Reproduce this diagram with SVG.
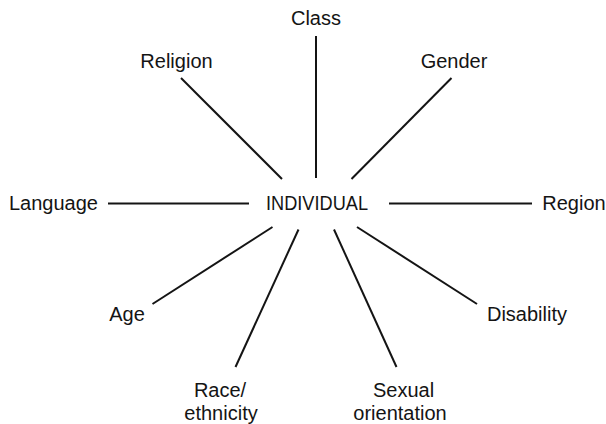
<svg xmlns="http://www.w3.org/2000/svg" width="606" height="424" viewBox="0 0 606 424">
  <style>
    .lbl { font-family: "Liberation Sans", Arial, sans-serif; font-size: 20px; fill: #141414; text-anchor: middle; }
    .spoke { stroke: #141414; stroke-width: 2; fill: none; }
  </style>
  <rect width="606" height="424" fill="#ffffff"/>
  <!-- spokes radiating from the central label -->
  <g id="connectors">
    <line class="spoke" x1="316" y1="36" x2="316" y2="178"/>
    <line class="spoke" x1="181" y1="78" x2="282" y2="179"/>
    <line class="spoke" x1="451.5" y1="78" x2="351.5" y2="179"/>
    <line class="spoke" x1="108" y1="203.5" x2="249" y2="203.5"/>
    <line class="spoke" x1="389" y1="203.5" x2="532" y2="203.5"/>
    <line class="spoke" x1="152.5" y1="304" x2="272.5" y2="227"/>
    <line class="spoke" x1="235.5" y1="367" x2="298.5" y2="229.5"/>
    <line class="spoke" x1="396.5" y1="367" x2="334" y2="229.5"/>
    <line class="spoke" x1="477" y1="304" x2="357" y2="227"/>
  </g>
  <g id="individual"><text class="lbl" x="317" y="210" textLength="102" lengthAdjust="spacingAndGlyphs">INDIVIDUAL</text></g>
  <g id="class"><text class="lbl" x="316" y="25">Class</text></g>
  <g id="religion"><text class="lbl" x="176.5" y="68">Religion</text></g>
  <g id="gender"><text class="lbl" x="454" y="68">Gender</text></g>
  <g id="language"><text class="lbl" x="53.5" y="209.5">Language</text></g>
  <g id="region"><text class="lbl" x="574" y="210">Region</text></g>
  <g id="age"><text class="lbl" x="127" y="320.5">Age</text></g>
  <g id="disability"><text class="lbl" x="527" y="321">Disability</text></g>
  <g id="race">
    <text class="lbl" x="220" y="397">Race/</text>
    <text class="lbl" x="221" y="420">ethnicity</text>
  </g>
  <g id="sexual-orientation">
    <text class="lbl" x="403.5" y="397">Sexual</text>
    <text class="lbl" x="400" y="420">orientation</text>
  </g>
</svg>
